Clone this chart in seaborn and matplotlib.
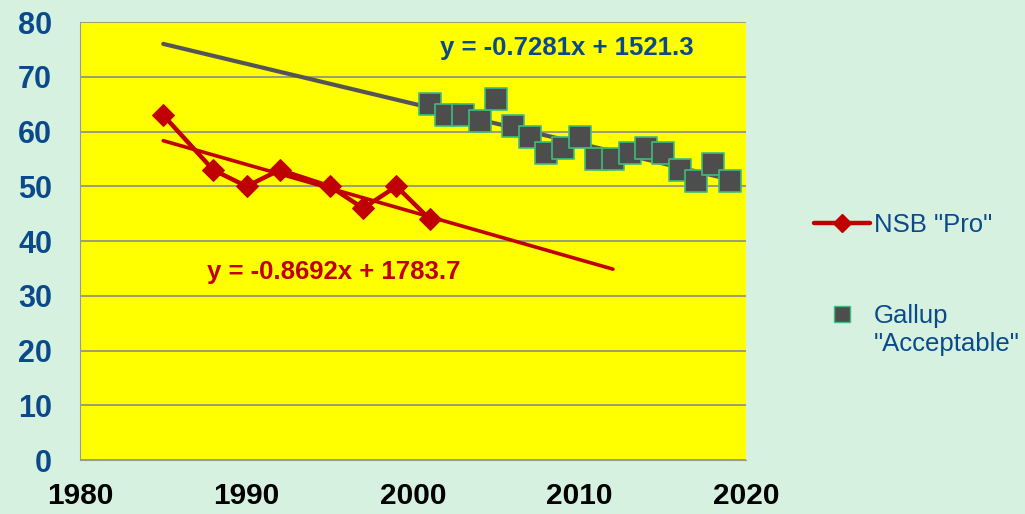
import matplotlib
matplotlib.use('Agg')
import matplotlib.pyplot as plt
from matplotlib.lines import Line2D
import seaborn as sns
import numpy as np
import pandas as pd

# NSB "Pro" survey
nsb_years = [1985, 1988, 1990, 1992, 1995, 1997, 1999, 2001]
nsb_values = [63, 53, 50, 53, 50, 46, 50, 44]

# Gallup "Acceptable"
gallup_years = [2001, 2002, 2003, 2004, 2005, 2006, 2007, 2008, 2009, 2010,
                2011, 2012, 2013, 2014, 2015, 2016, 2017, 2018, 2019]
gallup_values = [65, 63, 63, 62, 66, 61, 59, 56, 57, 59,
                 55, 55, 56, 57, 56, 53, 51, 54, 51]

# trend lines (coefficients as printed on the chart)
nsb_fit = [-0.8692, 1783.7]
nsb_fit_span = [1985, 2012]
gallup_fit = [-0.7281, 1521.3]
gallup_fit_span = [1985, 2019]

x_ticks = [1980, 1990, 2000, 2010, 2020]
y_ticks = [0, 10, 20, 30, 40, 50, 60, 70, 80]

BG = '#D7F1E0'
RED = '#C00000'
GREY = '#4D4D4D'
BLUE = '#0B4A8A'

sns.set_style('white')
plt.rcParams['font.family'] = ['Liberation Sans', 'DejaVu Sans']

nsb = pd.DataFrame({'year': nsb_years, 'value': nsb_values})
gallup = pd.DataFrame({'year': gallup_years, 'value': gallup_values})
nsb_trend = pd.DataFrame({'year': nsb_fit_span, 'value': np.polyval(nsb_fit, nsb_fit_span)})
gallup_trend = pd.DataFrame({'year': gallup_fit_span, 'value': np.polyval(gallup_fit, gallup_fit_span)})

fig = plt.figure(figsize=(10.25, 5.14), dpi=100, facecolor=BG)
ax = fig.add_axes([0.078, 0.105, 0.650, 0.852])
ax.set_facecolor('#FFFF00')

sns.lineplot(gallup_trend, x='year', y='value', color='#555555', lw=3, ax=ax)
sns.lineplot(nsb_trend, x='year', y='value', color=RED, lw=2.6, ax=ax)
sns.lineplot(nsb, x='year', y='value', color=RED, lw=3.2, marker='D',
             markersize=11, markeredgecolor=RED, ax=ax)
sns.scatterplot(gallup, x='year', y='value', marker='s', s=230, color=GREY,
                edgecolor='#3DBE7A', linewidth=1.2, zorder=5, ax=ax)

ax.set_xlim(1980, 2020)
ax.set_ylim(0, 80)
ax.set_xticks(x_ticks)
ax.set_yticks(y_ticks)
ax.set_xticklabels([str(t) for t in x_ticks], fontsize=21.5, fontweight='bold',
                   color='black')
ax.set_yticklabels([str(t) for t in y_ticks], fontsize=22, fontweight='bold', color=BLUE)
ax.tick_params(axis='x', length=8, width=1, color='#999999', pad=8, direction='out')
ax.tick_params(axis='y', length=8, width=1, color='#999999', pad=12, direction='out')
ax.grid(axis='y', color='#8C8C8C', lw=1.2)
ax.set_axisbelow(True)
for side in ['top', 'right']:
    ax.spines[side].set_visible(False)
for side in ['left', 'bottom']:
    ax.spines[side].set_color('#999999')
ax.set_xlabel('')
ax.set_ylabel('')

ax.text(2001.6, 75.2, 'y = -0.7281x + 1521.3', fontsize=18.5, fontweight='bold',
        color=BLUE, va='center')
ax.text(1987.6, 34.4, 'y = -0.8692x + 1783.7', fontsize=18.5, fontweight='bold',
        color=RED, va='center')

handles = [
    Line2D([], [], color=RED, lw=3.2, marker='D', markersize=9, markeredgecolor=RED),
    Line2D([], [], ls='', marker='s', markersize=11, color=GREY, markeredgecolor='#3DBE7A'),
]
fig.legend(handles, ['NSB "Pro"', 'Gallup'], loc='upper left',
           bbox_to_anchor=(0.772, 0.630), frameon=False, fontsize=18.5,
           labelcolor=BLUE, labelspacing=2.6, handlelength=2.15, handletextpad=0.15)
# second line of the Gallup legend label
fig.text(0.8527, 1 - 344 / 514, '"Acceptable"', fontsize=18.5, color=BLUE, va='center')

plt.savefig('out.png', dpi=100, facecolor=BG)
plt.close()
